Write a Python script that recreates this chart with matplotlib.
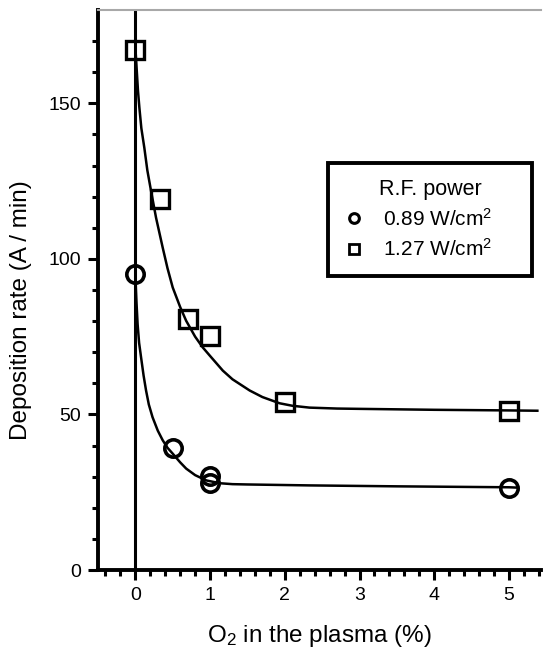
"""Deposition rate versus O2 content in the plasma for two R.F. powers."""

import matplotlib
matplotlib.use("Agg")
import matplotlib.pyplot as plt
from matplotlib.lines import Line2D

plt.rcParams['font.family'] = ['Liberation Sans', 'DejaVu Sans']
plt.rcParams['mathtext.fontset'] = 'custom'
plt.rcParams['mathtext.rm'] = 'Liberation Sans'
plt.rcParams['mathtext.it'] = 'Liberation Sans'

# measured points, 0.89 W/cm2
o2_low = [0, 0.5, 1, 1, 5]
rate_low = [95.3, 39.1, 28.0, 30.3, 26.3]

# measured points, 1.27 W/cm2
o2_high = [0, 0.33, 0.7, 1, 2, 5]
rate_high = [167, 119.3, 80.8, 75.3, 53.9, 51.0]

# fitted curves
fit_high_x = [0, 0.01, 0.02, 0.035, 0.054, 0.08, 0.12, 0.16, 0.21, 0.277,
              0.366, 0.43, 0.50, 0.60, 0.68, 0.80, 0.90, 1.00, 1.17, 1.30,
              1.53, 1.70, 1.93, 2.10, 2.33, 2.7, 3.0, 4.0, 5.0, 5.38]
fit_high_y = [168, 164, 160, 154, 148.5, 142, 135.7, 128.5, 121.8, 113.2,
              103.6, 97, 90.8, 84.5, 80.1, 75.0, 71.6, 68.8, 64.1, 61.3,
              57.7, 55.6, 53.6, 52.8, 52.2, 51.9, 51.8, 51.5, 51.3, 51.2]
fit_low_x = [0, 0.008, 0.015, 0.03, 0.05, 0.076, 0.11, 0.143, 0.18, 0.23,
             0.30, 0.366, 0.43, 0.5, 0.6, 0.68, 0.8, 0.95, 1.13, 1.3,
             1.5, 2.33, 3.5, 5.0, 5.1]
fit_low_y = [95, 90, 86, 79, 73, 68.4, 62.5, 57.7, 53.2, 49.1,
             44.8, 41.7, 39.3, 37.4, 34.6, 32.6, 30.5, 28.8, 27.9, 27.6,
             27.5, 27.2, 26.9, 26.6, 26.5]

legend_labels = ['0.89 W/cm$^2$', '1.27 W/cm$^2$']

fig = plt.figure(figsize=(5.43, 6.54), dpi=100)
ax = fig.add_axes([0.1805, 0.1284, 0.816, 0.8563])

# vertical line at zero O2
ax.axvline(0, color='black', linewidth=2.2, zorder=1)

ax.plot(fit_high_x, fit_high_y, color='black', linewidth=1.8, zorder=2)
ax.plot(fit_low_x, fit_low_y, color='black', linewidth=1.8, zorder=2)

ax.plot(o2_high, rate_high, linestyle='none', marker='s', markersize=12.5,
        markerfacecolor='none', markeredgecolor='black',
        markeredgewidth=2.4, zorder=3)
ax.plot(o2_low, rate_low, linestyle='none', marker='o', markersize=12.5,
        markerfacecolor='none', markeredgecolor='black',
        markeredgewidth=2.6, zorder=3)

ax.set_xlim(-0.5, 5.43)
ax.set_ylim(0, 180)
ax.set_xticks([0, 1, 2, 3, 4, 5])
ax.set_xticks([x / 5 for x in range(-2, 28) if x % 5 != 0], minor=True)
ax.set_yticks([0, 50, 100, 150])
ax.set_yticks([v for v in range(10, 180, 10) if v % 50 != 0], minor=True)

ax.tick_params(which='major', direction='out', length=7, width=2.2,
               labelsize=14, pad=5)
ax.tick_params(which='minor', direction='out', length=4.5, width=2.2)

# frame: thick black left/bottom, thin grey top, no right
ax.spines['left'].set_linewidth(2.8)
ax.spines['bottom'].set_linewidth(2.8)
ax.spines['top'].set_color('#a8a8a8')
ax.spines['top'].set_linewidth(1.5)
ax.spines['right'].set_visible(False)

ax.set_xlabel('O$_2$ in the plasma (%)', fontsize=17.5)
ax.set_ylabel('Deposition rate (A / min)', fontsize=17.5)
ax.xaxis.set_label_coords(0.5, -0.094)
ax.yaxis.set_label_coords(-0.15, 0.464)

handles = [
    Line2D([], [], linestyle='none', marker='o', markersize=7,
           markerfacecolor='none', markeredgecolor='black',
           markeredgewidth=2.2),
    Line2D([], [], linestyle='none', marker='s', markersize=7,
           markerfacecolor='none', markeredgecolor='black',
           markeredgewidth=2.0),
]
leg = ax.legend(handles, legend_labels, title='R.F. power',
                loc='upper left', mode='expand',
                bbox_to_anchor=(0.519, 0.523, 0.461, 0.204),
                borderaxespad=0, fontsize=15, title_fontsize=15.5,
                fancybox=False, edgecolor='black', framealpha=1,
                handlelength=1.0, handletextpad=0.9, borderpad=0.75,
                labelspacing=0.4)
leg.get_frame().set_linewidth(2.8)

fig.savefig('out.png', dpi=100)
